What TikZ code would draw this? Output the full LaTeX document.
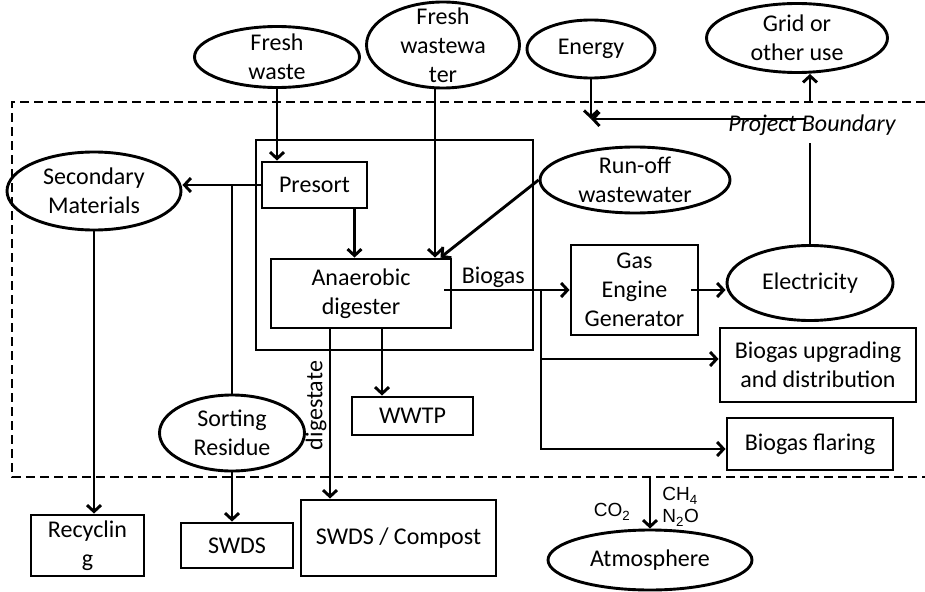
\documentclass[tikz,border=0pt]{standalone}
\usepackage{fontspec}
\setmainfont{Carlito}
\newfontfamily\gasfont{Liberation Sans}
\usetikzlibrary{arrows.meta}
\usetikzlibrary{shapes}
\usetikzlibrary{calc}

\begin{document}
\begin{tikzpicture}[x=1pt, y=-1pt, line width=2.9pt,
        font=\fontsize{24}{29}\selectfont,
        >={Straight Barb[length=6.5pt,width=14pt]},
        ell_style/.style={ellipse,draw=black,inner sep=0pt},
        box_style/.style={rectangle,draw=black,inner sep=1pt,align=center},
        gas_style/.style={font=\gasfont\fontsize{19}{22}\selectfont,inner sep=1pt},
        edge_style/.style={draw=black, line width=2.9pt,->},
        line_style/.style={draw=black, line width=2.9pt},
        bound_style/.style={draw=black, line width=2.9pt, dash pattern=on 9pt off 5pt},
        every label/.style={align=center}]

        \useasboundingbox (0,0) rectangle (925,591);

        % project boundary
        \coordinate (bnw) at (12,102);
        \coordinate (bne) at (925,102);
        \coordinate (bsw) at (12,477);
        \coordinate (bse) at (925,477);
        \draw [bound_style] (bne) -- (bnw) -- (bsw) -- (bse);

        \node [rectangle,draw=black,minimum width=277pt,minimum height=210pt](unit) at (394.5,245) {};

        \node [ell_style,minimum width=165pt,minimum height=61pt,label={center:Fresh\\waste}](fwaste) at (277,57) {};

        \node [ell_style,minimum width=153pt,minimum height=86pt,label={center:Fresh\\wastewa\\ter}](fww) at (443,45) {};

        \node [ell_style,minimum width=128pt,minimum height=58pt,label={center:Energy}](energy) at (591,49) {};

        \node [ell_style,minimum width=181pt,minimum height=69pt,label={center:Grid or\\other use}](grid) at (797,38) {};

        \node [ell_style,minimum width=174pt,minimum height=78pt,label={center:Secondary\\Materials}](secmat) at (94,191) {};

        \node [ell_style,minimum width=190pt,minimum height=66pt,label={center:Run-off\\wastewater}](runoff) at (635,180) {};

        \node [ell_style,minimum width=166pt,minimum height=75pt,label={center:Electricity}](elec) at (810,283) {};

        \node [ell_style,minimum width=145pt,minimum height=76pt,label={center:Sorting\\Residue}](sortres) at (232,433) {};

        \node [ell_style,minimum width=204pt,minimum height=60pt,label={center:Atmosphere}](atm) at (650,560) {};

        \node [box_style,minimum width=105pt,minimum height=46pt](presort) at (314.5,185) {Presort};

        \node [box_style,minimum width=180pt,minimum height=69pt](dig) at (361,293.5) {Anaerobic\\digester};

        \node [box_style,minimum width=127pt,minimum height=90pt](geg) at (634.5,290) {Gas\\Engine\\Generator};

        \node [box_style,minimum width=196pt,minimum height=74pt](upg) at (818,365) {Biogas upgrading\\and distribution};

        \node [box_style,minimum width=166pt,minimum height=52pt](flare) at (810,444) {Biogas flaring};

        \node [box_style,minimum width=121pt,minimum height=38pt](wwtp) at (412.5,416) {WWTP};

        \node [box_style,minimum width=113pt,minimum height=61pt](recyc) at (87.5,545.5) {Recyclin\\g};

        \node [box_style,minimum width=112pt,minimum height=45pt](swds) at (237,545.5) {SWDS};

        \node [box_style,minimum width=195pt,minimum height=76pt](swdsc) at (398.5,538) {SWDS / Compost};

        \node [inner sep=2pt](pbnd) at (812,125) {\itshape Project Boundary};

        \node [gas_style](co2) at (612,512) {CO\textsubscript{2}};

        \node [gas_style,align=left,anchor=west](gases) at (660,507) {CH\textsubscript{4}\\N\textsubscript{2}O};

        \coordinate (jsr) at (232,185);
        \coordinate (jbg) at (541,290);
        \coordinate (tap) at (806,119);
        \coordinate (emeet) at (591,119);

        \draw [edge_style] (fwaste.south) -- (fwaste.south |- presort.north);

        \draw [edge_style] ([xshift=-8pt]fww.south) -- ([xshift=-8pt]fww.south |- dig.north);

        \draw [edge_style] (runoff.west) -- ([xshift=-12pt]dig.north east);

        \draw [edge_style] ([xshift=40pt]presort.south) -- ([xshift=40pt]presort.south |- dig.north);

        \draw [edge_style] (presort.west) -- (presort.west -| secmat.east);

        \draw [line_style] (jsr) -- (sortres.north);

        \draw [edge_style] (secmat.south) -- (secmat.south |- recyc.north);

        \draw [edge_style] (sortres.south) -- (sortres.south |- swds.north);

        \draw [edge_style] ([xshift=-31pt]dig.south) -- node[pos=0.45,rotate=90,above,inner sep=2pt]{digestate} ([xshift=-31pt]dig.south |- swdsc.north);

        \draw [edge_style] ([xshift=21pt]dig.south) -- ([xshift=21pt]dig.south |- wwtp.north);

        \draw [edge_style] (dig.east |- geg.west) ++(-8pt,0) -- node[pos=0.39,above,inner sep=1pt]{Biogas} (geg.west);

        \draw [edge_style] ([yshift=6pt]upg.west -| jbg) -- ([yshift=6pt]upg.west);

        \draw [edge_style] (jbg) |- ([yshift=-5pt]flare.west);

        \draw [edge_style] (geg.east) ++(-8pt,0) -- (elec.west |- geg.east);

        \draw [line_style] (elec.north) -- ([yshift=-4pt]elec.north |- pbnd.south);

        \draw [edge_style] (tap) -- (emeet);

        \draw [edge_style] (energy.south) -- (emeet);

        \draw [edge_style] (elec.north |- bnw) -- (elec.north |- grid.south);

        \draw [edge_style] (atm.north |- bsw) -- (atm.north);

        \end{tikzpicture}
\end{document}
